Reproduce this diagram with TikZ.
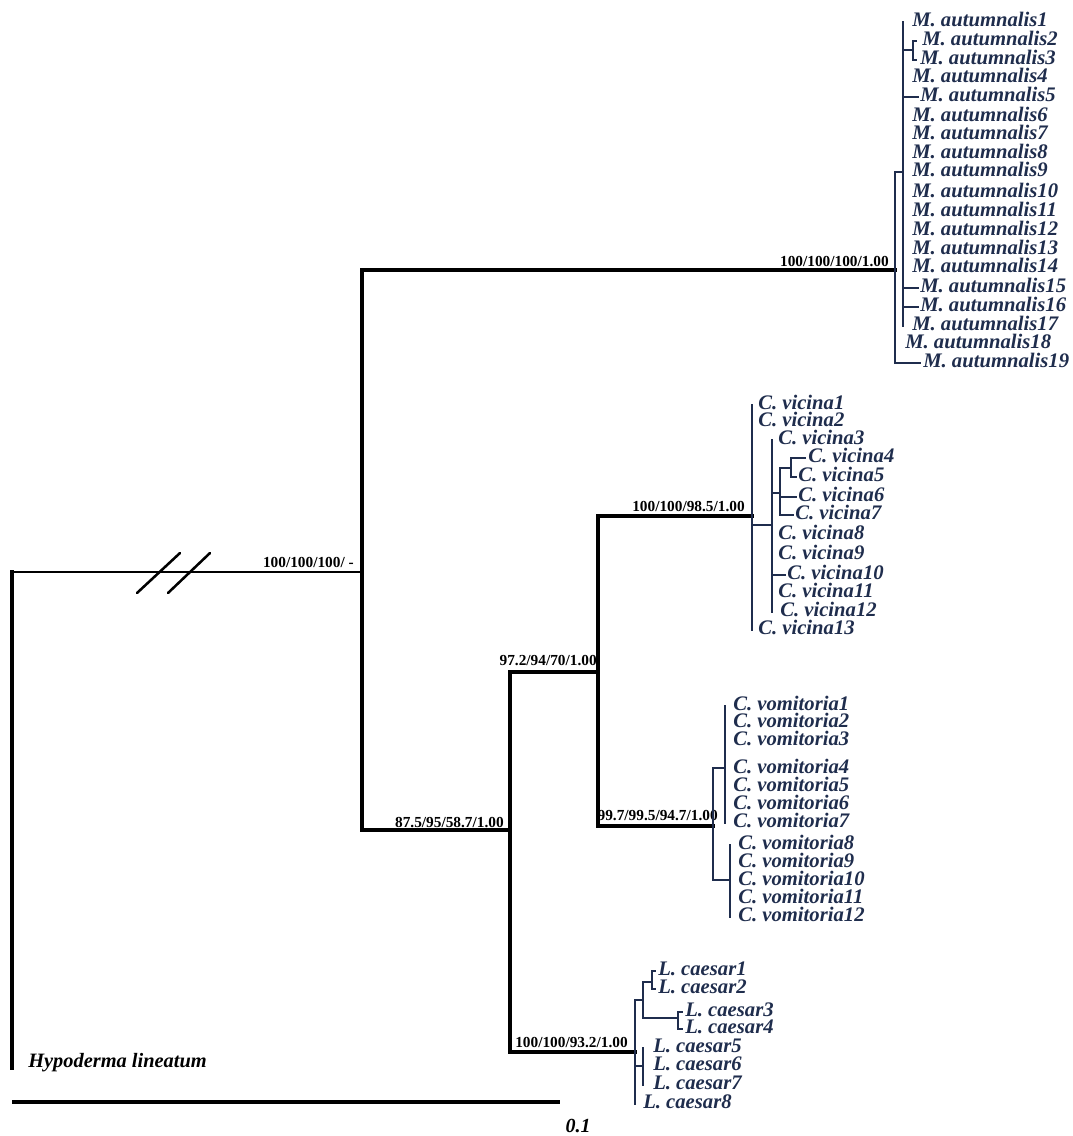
\documentclass[tikz,border=0pt]{standalone}
\usepackage{fontspec}
\setmainfont{Liberation Serif}
\definecolor{navy}{RGB}{31,45,77}
\newcommand\mktip[5]{\coordinate (#1) at (#2,#3); \node[tip] (l#1) at (#4,#3) {#5};}
\tikzset{
  bb/.style={line width=3pt, black, line cap=rect},
  rt/.style={line width=1.9pt, black},
  cl/.style={line width=2.2pt, navy, line cap=rect},
  brk/.style={line width=1.9pt, black, line cap=round},
  tip/.style={anchor=west, inner sep=0pt, text height=0.66em, text depth=0pt, text=navy, font=\fontsize{15.5}{15.5}\selectfont\bfseries\itshape},
  sup/.style={anchor=south east, inner sep=0pt, font=\fontsize{11.5}{12}\selectfont\bfseries},
}
\begin{document}
\begin{tikzpicture}[x=0.75pt, y=-0.75pt]
\useasboundingbox (0,0) rectangle (1073,1136);
% backbone nodes
\coordinate (R) at (12,572);
\coordinate (I) at (362,572);
\coordinate (Mr) at (895,270);
\coordinate (A) at (510,830);
\coordinate (B) at (598,672);
\coordinate (CV) at (752,516);
\coordinate (VO) at (713,826);
\coordinate (LC) at (635,1052);
\coordinate (hyp) at (12,1068);
% root
\draw[bb] (R) -- (hyp);
\draw[rt] (R) -- (I);
\coordinate (k1a) at (137,593); \coordinate (k1b) at (180,553);
\coordinate (k2a) at (168,593); \coordinate (k2b) at (210,553);
\draw[brk] (k1a) -- (k1b);
\draw[brk] (k2a) -- (k2b);
\draw[bb] (I) |- (Mr);
\draw[bb] (I) |- (A);
\draw[bb] (A) |- (B);
\draw[bb] (A) |- (LC);
\draw[bb] (B) |- (CV);
\draw[bb] (B) |- (VO);
\node[anchor=west, inner sep=0pt, text height=0.66em, font=\fontsize{15.3}{15.3}\selectfont\bfseries\itshape] (lhyp) at (28,1065) {Hypoderma lineatum};
% support values
\node[sup] (s0) at (354,568) {100/100/100/ -};
\node[sup] (s1) at (889,267) {100/100/100/1.00};
\node[sup] (s2) at (504,828) {87.5/95/58.7/1.00};
\node[sup] (s3) at (597,666) {97.2/94/70/1.00};
\node[sup] (s4) at (745,512) {100/100/98.5/1.00};
\node[sup] (s5) at (718,821) {99.7/99.5/94.7/1.00};
\node[sup] (s6) at (628,1048) {100/100/93.2/1.00};
% M. autumnalis clade
\coordinate (Ms) at (903,172);
\coordinate (M23) at (913,50);
\mktip{m1}{903}{22}{912}{M. autumnalis1}
\mktip{m2}{916}{41}{922}{M. autumnalis2}
\mktip{m3}{916}{60}{920}{M. autumnalis3}
\mktip{m4}{903}{78}{912}{M. autumnalis4}
\mktip{m5}{918}{97}{920}{M. autumnalis5}
\mktip{m6}{903}{117}{912}{M. autumnalis6}
\mktip{m7}{903}{135}{912}{M. autumnalis7}
\mktip{m8}{903}{154}{912}{M. autumnalis8}
\mktip{m9}{903}{172}{912}{M. autumnalis9}
\mktip{m10}{903}{193}{912}{M. autumnalis10}
\mktip{m11}{903}{212}{912}{M. autumnalis11}
\mktip{m12}{903}{231}{912}{M. autumnalis12}
\mktip{m13}{903}{250}{912}{M. autumnalis13}
\mktip{m14}{903}{268}{912}{M. autumnalis14}
\mktip{m15}{918}{288}{920}{M. autumnalis15}
\mktip{m16}{918}{307}{920}{M. autumnalis16}
\mktip{m17}{903}{326}{912}{M. autumnalis17}
\mktip{m18}{895}{344}{905}{M. autumnalis18}
\mktip{m19}{920}{363}{923}{M. autumnalis19}
\draw[cl] (Mr) |- (Ms);
\draw[cl] (Mr) |- (m18);
\draw[cl] (Mr) |- (m19);
\foreach \t in {m1,m4,m5,m6,m7,m8,m9,m10,m11,m12,m13,m14,m15,m16,m17,M23} \draw[cl] (Ms) |- (\t);
\draw[cl] (M23) |- (m2);
\draw[cl] (M23) |- (m3);
% C. vicina clade
\coordinate (S1) at (772,525);
\coordinate (S2) at (780,493);
\coordinate (S3) at (791,468);
\mktip{c1}{752}{405}{758}{C. vicina1}
\mktip{c2}{752}{422}{758}{C. vicina2}
\mktip{c3}{772}{440}{778}{C. vicina3}
\mktip{c4}{805}{458}{808}{C. vicina4}
\mktip{c5}{796}{477}{798}{C. vicina5}
\mktip{c6}{796}{497}{798}{C. vicina6}
\mktip{c7}{793}{515}{795}{C. vicina7}
\mktip{c8}{772}{535}{778}{C. vicina8}
\mktip{c9}{772}{555}{778}{C. vicina9}
\mktip{c10}{785}{575}{787}{C. vicina10}
\mktip{c11}{772}{593}{778}{C. vicina11}
\mktip{c12}{772}{612}{780}{C. vicina12}
\mktip{c13}{752}{630}{758}{C. vicina13}
\foreach \t in {c1,c2,S1,c13} \draw[cl] (CV) |- (\t);
\foreach \t in {c3,S2,c8,c9,c10,c11,c12} \draw[cl] (S1) |- (\t);
\foreach \t in {S3,c6,c7} \draw[cl] (S2) |- (\t);
\foreach \t in {c4,c5} \draw[cl] (S3) |- (\t);
% C. vomitoria clade
\coordinate (VA) at (725,768);
\coordinate (VB) at (730,880);
\mktip{v1}{725}{706}{733}{C. vomitoria1}
\mktip{v2}{725}{723}{733}{C. vomitoria2}
\mktip{v3}{725}{741}{733}{C. vomitoria3}
\mktip{v4}{725}{769}{733}{C. vomitoria4}
\mktip{v5}{725}{787}{733}{C. vomitoria5}
\mktip{v6}{725}{805}{733}{C. vomitoria6}
\mktip{v7}{725}{823}{733}{C. vomitoria7}
\mktip{v8}{730}{845}{738}{C. vomitoria8}
\mktip{v9}{730}{863}{738}{C. vomitoria9}
\mktip{v10}{730}{881}{738}{C. vomitoria10}
\mktip{v11}{730}{899}{738}{C. vomitoria11}
\mktip{v12}{730}{917}{738}{C. vomitoria12}
\draw[cl] (VO) |- (VA);
\draw[cl] (VO) |- (VB);
\foreach \t in {v1,v2,v3,v4,v5,v6,v7} \draw[cl] (VA) |- (\t);
\foreach \t in {v8,v9,v10,v11,v12} \draw[cl] (VB) |- (\t);
% L. caesar clade
\coordinate (LA) at (643,1000);
\coordinate (LB) at (643,1066);
\coordinate (L12) at (652,982);
\coordinate (L34) at (678,1018);
\mktip{l1}{655}{971}{658}{L. caesar1}
\mktip{l2}{655}{989}{658}{L. caesar2}
\mktip{l3}{682}{1012}{685}{L. caesar3}
\mktip{l4}{682}{1029}{685}{L. caesar4}
\mktip{l5}{643}{1048}{653}{L. caesar5}
\mktip{l6}{643}{1066}{653}{L. caesar6}
\mktip{l7}{643}{1085}{653}{L. caesar7}
\mktip{l8}{635}{1104}{643}{L. caesar8}
\foreach \t in {LA,LB,l8} \draw[cl] (LC) |- (\t);
\foreach \t in {L12,L34} \draw[cl] (LA) |- (\t);
\foreach \t in {l1,l2} \draw[cl] (L12) |- (\t);
\foreach \t in {l3,l4} \draw[cl] (L34) |- (\t);
\foreach \t in {l5,l6,l7} \draw[cl] (LB) |- (\t);
% scale bar
\coordinate (sb1) at (12,1102);
\coordinate (sb2) at (560,1102);
\draw[bb, line cap=butt] (sb1) -- (sb2);
\node[inner sep=0pt, font=\fontsize{15}{15}\selectfont\bfseries\itshape] (sbl) at (578,1126) {0.1};
\end{tikzpicture}
\end{document}
